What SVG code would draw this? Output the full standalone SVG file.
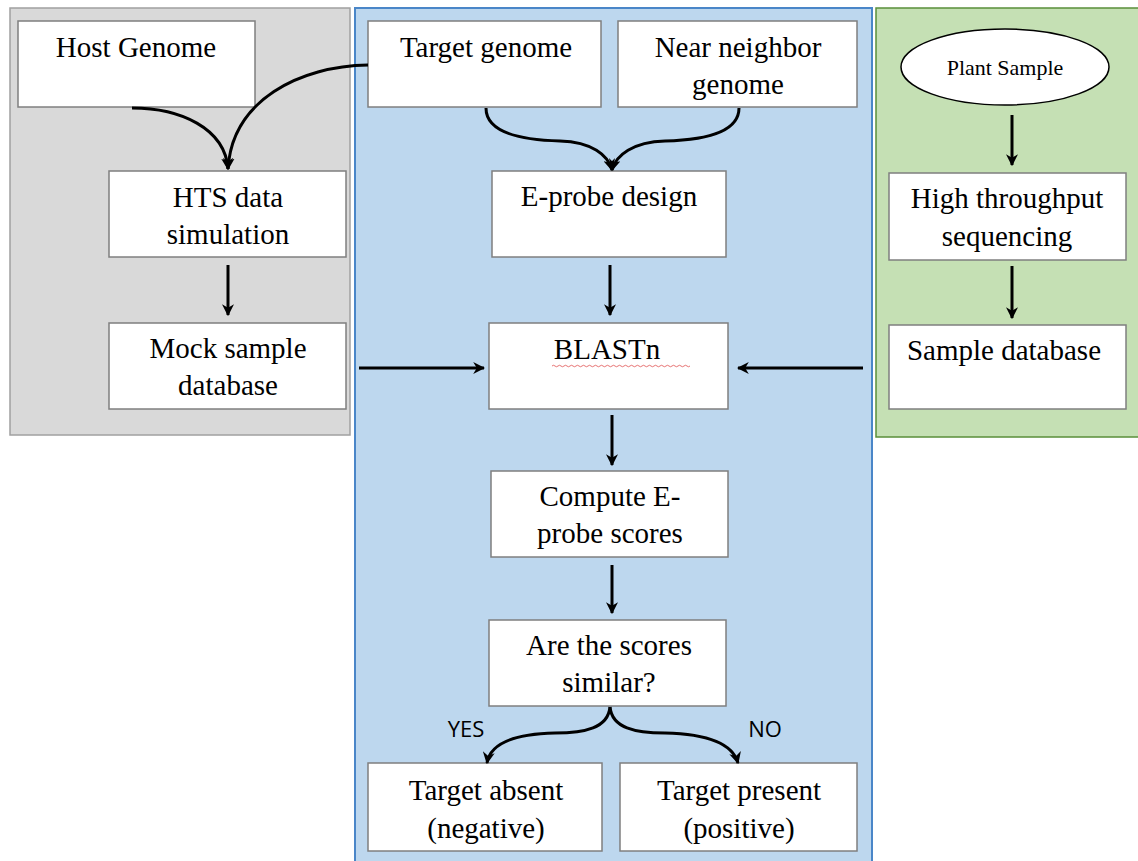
<svg xmlns="http://www.w3.org/2000/svg" width="1138" height="861" viewBox="0 0 1138 861">
<defs>
<marker id="ah" viewBox="0 0 10 10" refX="9" refY="5" markerWidth="4" markerHeight="4" orient="auto-start-reverse" markerUnits="strokeWidth">
<path d="M0,0 L10,5 L0,10 L3,5 Z" fill="#000"/>
</marker>
</defs>
<style>
.box{fill:#fff;stroke:#7f7f7f;stroke-width:1.5}
.t{font-family:"Liberation Serif","Times New Roman",serif;font-size:29px;fill:#000;text-anchor:middle}
.s{font-family:"Open Sans","Liberation Sans",sans-serif;font-size:22px;fill:#000;text-anchor:middle}
.c{fill:none;stroke:#000;stroke-width:3;marker-end:url(#ah)}
</style>
<rect width="1138" height="861" fill="#fff"/>
<g id="panels">
<rect x="10" y="8" width="340" height="427" fill="#d9d9d9" stroke="#a0a0a0" stroke-width="1.5"/>
<rect x="355" y="8" width="517" height="860" fill="#bdd7ee" stroke="#4a86c8" stroke-width="2"/>
<rect x="876" y="8" width="270" height="429" fill="#c5e0b4" stroke="#5a8f3a" stroke-width="1.5"/>
</g>
<g id="host"><rect class="box" x="18" y="21" width="237" height="86"/><text class="t" x="136" y="57">Host Genome</text></g>
<g id="hts"><rect class="box" x="109" y="171" width="237" height="86"/><text class="t" x="228" y="207">HTS data</text><text class="t" x="228" y="244">simulation</text></g>
<g id="mock"><rect class="box" x="109" y="323" width="237" height="86"/><text class="t" x="228" y="358">Mock sample</text><text class="t" x="228" y="395">database</text></g>
<g id="target"><rect class="box" x="368" y="21" width="233" height="86"/><text class="t" x="486" y="57">Target genome</text></g>
<g id="near"><rect class="box" x="618" y="21" width="239" height="86"/><text class="t" x="738" y="57">Near neighbor</text><text class="t" x="738" y="94">genome</text></g>
<g id="eprobe"><rect class="box" x="492" y="171" width="234" height="86"/><text class="t" x="609" y="206">E-probe design</text></g>
<g id="blastn"><rect class="box" x="489" y="323" width="239" height="86"/><text class="t" x="607" y="359">BLASTn</text><path d="M552,366 q1.5,-1.5 3,0 t3,0 t3,0 t3,0 t3,0 t3,0 t3,0 t3,0 t3,0 t3,0 t3,0 t3,0 t3,0 t3,0 t3,0 t3,0 t3,0 t3,0 t3,0 t3,0 t3,0 t3,0 t3,0 t3,0 t3,0 t3,0 t3,0 t3,0 t3,0 t3,0 t3,0 t3,0 t3,0 t3,0 t3,0 t3,0 t3,0 t3,0 t3,0 t3,0 t3,0 t3,0 t3,0 t3,0 t3,0 t3,0" fill="none" stroke="#e05050" stroke-width="0.8"/></g>
<g id="compute"><rect class="box" x="491" y="471" width="237" height="86"/><text class="t" x="610" y="506">Compute E-</text><text class="t" x="610" y="543">probe scores</text></g>
<g id="similar"><rect class="box" x="489" y="620" width="237" height="86"/><text class="t" x="609" y="655">Are the scores</text><text class="t" x="609" y="692">similar?</text></g>
<g id="absent"><rect class="box" x="368" y="763" width="234" height="88"/><text class="t" x="486" y="800">Target absent</text><text class="t" x="486" y="838">(negative)</text></g>
<g id="present"><rect class="box" x="620" y="763" width="237" height="88"/><text class="t" x="739" y="800">Target present</text><text class="t" x="739" y="838">(positive)</text></g>
<g id="plant"><ellipse cx="1005" cy="67" rx="104" ry="38" fill="#fff" stroke="#000" stroke-width="1.5"/><text class="t" x="1005" y="75" style="font-size:22px">Plant Sample</text></g>
<g id="hiseq"><rect class="box" x="889" y="173" width="237" height="87"/><text class="t" x="1007" y="208">High throughput</text><text class="t" x="1007" y="246">sequencing</text></g>
<g id="sampledb"><rect class="box" x="889" y="325" width="237" height="84"/><text class="t" x="1004" y="360">Sample database</text></g>
<g id="connectors">
<path class="c" d="M132,108 C180,108 225,128 228,169"/>
<path class="c" d="M368,65 C300,66 232,100 228,169"/>
<path class="c" d="M486,108 C486,132 520,140 560,141 C592,142 608,155 612,170"/>
<path class="c" d="M739,108 C739,132 705,140 665,141 C633,142 616,155 612,170"/>
<path class="c" d="M228,265 L228,315"/>
<path class="c" d="M610,265 L610,315"/>
<path class="c" d="M612,415 L612,465"/>
<path class="c" d="M612,565 L612,613"/>
<path class="c" d="M1012,115 L1012,165"/>
<path class="c" d="M1012,266 L1012,318"/>
<path class="c" d="M359,368 L484,368"/>
<path class="c" d="M863,368 L738,368"/>
<path class="c" d="M610,707 C608,728 585,733 555,733 C510,734 490,745 487,763"/>
<path class="c" d="M610,707 C612,728 635,733 665,733 C710,734 733,745 738,763"/>
<text class="s" x="466" y="737">YES</text>
<text class="s" x="765" y="737">NO</text>
</g>
</svg>
